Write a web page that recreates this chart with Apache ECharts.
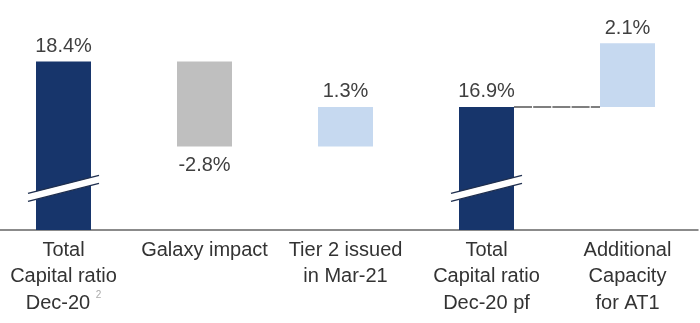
<!DOCTYPE html>
<html>
<head>
<meta charset="utf-8">
<script src="https://cdn.jsdelivr.net/npm/echarts@6/dist/echarts.min.js"></script>
<style>
html,body{margin:0;padding:0;background:#fff;overflow:hidden;width:700px;height:323px;}
#chart{width:707px;height:323px;margin-left:-7px;}
</style>
</head>
<body>
<div id="chart"></div>
<script>
// ---- data ----
const categories = ['Total\nCapital ratio\nDec-20', 'Galaxy impact', 'Tier 2 issued\nin Mar-21', 'Total\nCapital ratio\nDec-20 pf', 'Additional\nCapacity\nfor AT1'];
const footnotes = ['2', '', '', '', ''];
const changes = [18.4, -2.8, 1.3, 16.9, 2.1];
const kinds = ['total', 'decrease', 'increase', 'total', 'increase'];
const connectors = [[3, 4]];
const breakValue = 14.22;

// ---- derived waterfall values ----
const bases = [], heights = [], tops = [];
let running = 0;
for (let i = 0; i < changes.length; i++) {
  let low, high;
  if (kinds[i] === 'total') { low = 0; high = changes[i]; running = high; }
  else if (kinds[i] === 'increase') { low = running; high = running + changes[i]; running = high; }
  else { high = running; low = running + changes[i]; running = low; }
  bases.push(+low.toFixed(4));
  heights.push(+(high - low).toFixed(4));
  tops.push(+high.toFixed(4));
}

const colors = { total: '#17356b', decrease: '#bfbfbf', increase: '#c6d9f0' };
const FONT = "'Liberation Sans', Arial, sans-serif";
const BAR_FRAC = 0.39;

const chart = echarts.init(document.getElementById('chart'), null, { renderer: 'canvas' });

chart.setOption({
  animation: false,
  backgroundColor: '#fff',
  grid: { left: 0, right: 2, top: 28, bottom: 93, containLabel: false },
  xAxis: {
    type: 'category',
    data: categories,
    axisTick: { show: false },
    axisLine: { lineStyle: { color: '#666', width: 1.5 } },
    axisLabel: {
      interval: 0,
      margin: 7,
      color: '#333',
      fontFamily: FONT,
      fontSize: 20,
      lineHeight: 26.5,
      formatter: function (v, i) {
        return footnotes[i] ? v + ' {sup|' + footnotes[i] + '}' : v;
      },
      rich: {
        sup: { fontSize: 10, color: '#aaa', fontFamily: FONT, verticalAlign: 'top', lineHeight: 26, padding: [0, 0, 10, 0] }
      }
    }
  },
  yAxis: {
    type: 'value',
    show: false,
    min: 12.85,
    max: 19.5,
    splitLine: { show: false }
  },
  series: [
    {
      type: 'bar',
      stack: 'wf',
      silent: true,
      barWidth: (BAR_FRAC * 100) + '%',
      itemStyle: { color: 'transparent' },
      data: bases
    },
    {
      type: 'bar',
      stack: 'wf',
      barWidth: (BAR_FRAC * 100) + '%',
      data: heights.map(function (h, i) {
        return {
          value: h,
          itemStyle: { color: colors[kinds[i]] },
          label: {
            show: true,
            position: kinds[i] === 'decrease' ? 'bottom' : 'top',
            distance: kinds[i] === 'decrease' ? 9 : 5,
            formatter: changes[i].toFixed(1) + '%',
            color: '#404040',
            fontFamily: FONT,
            fontSize: 20
          }
        };
      })
    },
    {
      type: 'custom',
      silent: true,
      z: 5,
      data: connectors.map(function (c) { return [c[0], tops[c[0]], c[1]]; }),
      encode: { x: 0, y: 1 },
      renderItem: function (params, api) {
        const p1 = api.coord([api.value(0), api.value(1)]);
        const p2 = api.coord([api.value(2), api.value(1)]);
        const half = api.size([1, 0])[0] * BAR_FRAC / 2;
        return {
          type: 'line',
          shape: { x1: p1[0] + half, y1: p1[1], x2: p2[0] - half, y2: p2[1] },
          style: { stroke: '#555', lineWidth: 1.4, lineDash: [18, 1.2] }
        };
      }
    },
    {
      type: 'custom',
      silent: true,
      z: 6,
      data: kinds.map(function (k, i) { return k === 'total' ? [i, breakValue] : null; }).filter(Boolean),
      encode: { x: 0, y: 1 },
      renderItem: function (params, api) {
        const c = api.coord([api.value(0), api.value(1)]);
        const half = api.size([1, 0])[0] * BAR_FRAC / 2 + 8;
        const drop = 9, sep = 4;
        const xl = c[0] - half, xr = c[0] + half;
        return {
          type: 'group',
          children: [
            {
              type: 'polygon',
              shape: { points: [[xl, c[1] + drop - sep], [xr, c[1] - drop - sep], [xr, c[1] - drop + sep], [xl, c[1] + drop + sep]] },
              style: { fill: '#fff' }
            },
            {
              type: 'line',
              shape: { x1: xl, y1: c[1] + drop - sep, x2: xr, y2: c[1] - drop - sep },
              style: { stroke: '#1f2f4f', lineWidth: 1.5 }
            },
            {
              type: 'line',
              shape: { x1: xl, y1: c[1] + drop + sep, x2: xr, y2: c[1] - drop + sep },
              style: { stroke: '#1f2f4f', lineWidth: 1.5 }
            }
          ]
        };
      }
    }
  ]
});
</script>
</body>
</html>
